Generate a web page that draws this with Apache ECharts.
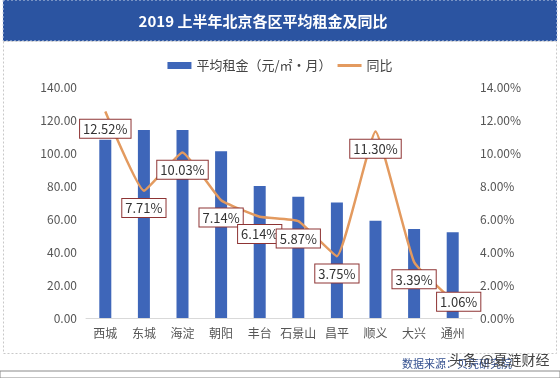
<!DOCTYPE html>
<html><head><meta charset="utf-8">
<script src="https://cdn.jsdelivr.net/npm/echarts@6/dist/echarts.min.js"></script>
<style>html,body{margin:0;padding:0;background:#fff}#c{width:560px;height:378px}</style>
</head><body><div id="c"></div>
<script>
const categories = ['西城','东城','海淀','朝阳','丰台','石景山','昌平','顺义','大兴','通州'];
const rentValues = [108, 114, 114, 101, 80, 73.5, 70, 59, 54, 52];
const yoyValues = [12.52, 7.71, 10.03, 7.14, 6.14, 5.87, 3.75, 11.30, 3.39, 1.06];
const leftTicks = [0, 20, 40, 60, 80, 100, 120, 140];
const rightTicks = [0, 2, 4, 6, 8, 10, 12, 14];
const titleText = '2019 上半年北京各区平均租金及同比';
const barName = '平均租金（元/㎡·月）';
const lineName = '同比';

const chart = echarts.init(document.getElementById('c'));
const font = '"Noto Sans CJK SC", "Noto Sans", sans-serif';
chart.setOption({
  animation: false,
  textStyle: {fontFamily: font},
  graphic: [
    {type:'rect', shape:{x:3,y:0,width:554,height:41}, style:{fill:'#2b54a1', stroke:'#c8d2e6', lineDash:[2,2], lineWidth:1}, z:-1},
    {type:'rect', shape:{x:3.5,y:41.5,width:553,height:312}, style:{fill:'none', stroke:'#c8c8c8', lineDash:[2,2], lineWidth:1}, z:-1},
    {type:'rect', shape:{x:0,y:371,width:560,height:7}, style:{fill:'#ffffff', stroke:'#8a8a8a', lineWidth:1}, z:-1},
    {type:'text', style:{x:263, y:21, text:titleText, fill:'#ffffff', font:'bold 15px ' + font, textAlign:'center', textVerticalAlign:'middle'}},
    {type:'text', style:{x:512, y:364, text:'数据来源：贝壳研究院', fill:'#34508f', font:'11px ' + font, textAlign:'right', textVerticalAlign:'middle'}},
    {type:'text', style:{x:449, y:360, text:'头条 @夏涟财经', fill:'#444', font:'14px ' + font, textAlign:'left', textVerticalAlign:'middle'}}
  ],
  legend: {
    top: 54, left: 'center', itemGap: 6, itemWidth: 24, itemHeight: 7,
    textStyle: {fontSize: 13, color: '#444', fontFamily: font},
    data: [
      {name: barName, icon: 'rect'},
      {name: lineName, icon: 'path://M0,0 L24,0 L24,3 L0,3 Z', itemStyle: {color: '#e39a5f', opacity: 1}}
    ]
  },
  grid: {left: 86, right: 88, top: 87, bottom: 60},
  xAxis: {
    type: 'category', data: categories,
    axisLine: {lineStyle: {color: '#d9d9d9'}}, axisTick: {show: false},
    axisLabel: {color: '#555', fontSize: 12, margin: 9, interval: 0}
  },
  yAxis: [
    {type:'value', min:0, max:140, interval:20, splitLine:{show:false},
     axisLine:{show:false}, axisTick:{show:false},
     axisLabel:{color:'#555', fontSize:12, margin:9, formatter: v => leftTicks.includes(v) ? v.toFixed(2) : ''}},
    {type:'value', min:0, max:14, interval:2, splitLine:{show:false},
     axisLine:{show:false}, axisTick:{show:false},
     axisLabel:{color:'#555', fontSize:12, margin:8, formatter: v => rightTicks.includes(v) ? v.toFixed(2) + '%' : ''}}
  ],
  series: [
    {name: barName, type: 'bar', data: rentValues, barWidth: 12,
     itemStyle: {color: '#3e66b9'}, z: 1},
    {name: lineName, type: 'line', yAxisIndex: 1, data: yoyValues, smooth: 0.12,
     symbol: 'circle', symbolSize: 0.5, showSymbol: true,
     lineStyle: {color: '#e39a5f', width: 2.5}, itemStyle: {color: '#e39a5f'}, z: 2,
     labelLayout: function (p) {
       const out = {hideOverlap: false};
       if (p.dataIndex === categories.length - 1) { out.dx = 6; out.dy = -16; }
       return out;
     },
     label: {show: true, position: 'bottom', distance: 8, formatter: p => p.value.toFixed(2) + '%',
       backgroundColor: '#fff', borderColor: '#8e3434', borderWidth: 1, padding: [3, 3, 2, 3],
       color: '#333', fontSize: 13, fontFamily: font}}
  ]
});
</script></body></html>
